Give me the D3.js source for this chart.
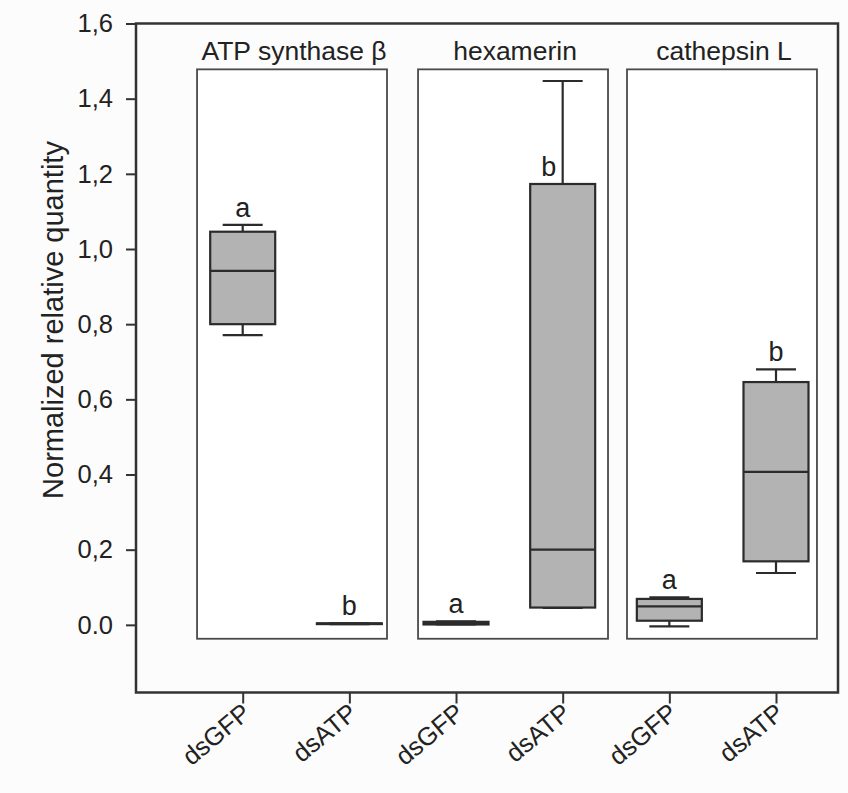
<!DOCTYPE html>
<html><head><meta charset="utf-8">
<script src="https://cdn.jsdelivr.net/npm/d3@7"></script>
<style>
html,body{margin:0;padding:0;background:#fcfcfc;}
svg{display:block;font-family:"Liberation Sans",Arial,sans-serif;}
</style></head>
<body>
<svg id="chart" width="848" height="793"></svg>
<script>
// ---- data ----
const genes = ["ATP synthase β", "hexamerin", "cathepsin L"];
const treatments = ["dsGFP", "dsATP"];
const groupLabels = ["dsGFP", "dsATP", "dsGFP", "dsATP", "dsGFP", "dsATP"];
const whiskerLow  = [0.771, 0.002, 0.001, 0.045, -0.004, 0.138];
const q1          = [0.800, 0.002, 0.001, 0.046, 0.011, 0.169];
const median      = [0.942, 0.003, 0.004, 0.200, 0.049, 0.407];
const q3          = [1.046, 0.004, 0.008, 1.173, 0.069, 0.646];
const whiskerHigh = [1.064, 0.004, 0.009, 1.447, 0.073, 0.680];
const letters     = ["a", "b", "a", "b", "a", "b"];
const letterBesideWhisker = [false, false, false, true, false, false];
const yTickValues = [0, 0.2, 0.4, 0.6, 0.8, 1.0, 1.2, 1.4, 1.6];
const yTickLabels = ["0.0", "0,2", "0,4", "0,6", "0,8", "1,0", "1,2", "1,4", "1,6"];
const yDomain = [-0.18, 1.6];
const panelValueRange = [-0.037, 1.478];
// panel edges in group-index units
const panelStart = [-0.428, 1.644, 3.603];
const panelEnd   = [1.353, 3.425, 5.384];
const yTitle = "Normalized relative quantity";

// ---- layout ----
const svg = d3.select("#chart");
const mLeft = 136, mRight = 838, mTop = 23.5, mBottom = 692.5;
const ink = "#2b2b2b";

const y = d3.scaleLinear().domain(yDomain).range([mBottom, mTop]);
const x = d3.scalePoint().domain(d3.range(groupLabels.length)).range([242.7, 776]);
const xl = d3.scaleLinear().domain([0, groupLabels.length - 1]).range(x.range());

svg.append("rect").attr("width", 848).attr("height", 793).attr("fill", "#fcfcfc");

// panels
genes.forEach((g, i) => {
  const x0 = xl(panelStart[i]), x1 = xl(panelEnd[i]);
  svg.append("rect")
    .attr("x", x0).attr("y", y(panelValueRange[1]))
    .attr("width", x1 - x0).attr("height", y(panelValueRange[0]) - y(panelValueRange[1]))
    .attr("fill", "#ffffff").attr("stroke", "#4a4a4a").attr("stroke-width", 1.8);
  svg.append("text")
    .attr("x", (x0 + x1) / 2 + 2).attr("y", 60)
    .attr("text-anchor", "middle").attr("font-size", 26.5).attr("fill", "#222")
    .text(g);
});

// boxes
const boxW = 65, capW = 40;
groupLabels.forEach((lab, i) => {
  const cx = x(i);
  const gEl = svg.append("g").attr("stroke", ink).attr("stroke-width", 2.2);
  gEl.append("line").attr("x1", cx).attr("x2", cx).attr("y1", y(whiskerHigh[i])).attr("y2", y(q3[i]));
  gEl.append("line").attr("x1", cx).attr("x2", cx).attr("y1", y(q1[i])).attr("y2", y(whiskerLow[i]));
  gEl.append("line").attr("x1", cx - capW / 2).attr("x2", cx + capW / 2).attr("y1", y(whiskerHigh[i])).attr("y2", y(whiskerHigh[i]));
  gEl.append("line").attr("x1", cx - capW / 2).attr("x2", cx + capW / 2).attr("y1", y(whiskerLow[i])).attr("y2", y(whiskerLow[i]));
  gEl.append("rect")
    .attr("x", cx - boxW / 2).attr("y", y(q3[i]))
    .attr("width", boxW).attr("height", Math.max(0.5, y(q1[i]) - y(q3[i])))
    .attr("fill", "#b3b3b3");
  gEl.append("line").attr("x1", cx - boxW / 2).attr("x2", cx + boxW / 2).attr("y1", y(median[i])).attr("y2", y(median[i]));

  const beside = letterBesideWhisker[i];
  svg.append("text")
    .attr("x", beside ? cx - 14 : cx)
    .attr("y", beside ? y(q3[i]) - 8 : y(whiskerHigh[i]) - 8)
    .attr("text-anchor", "middle").attr("font-size", 27).attr("fill", "#222")
    .text(letters[i]);
});

// frame
svg.append("rect").attr("x", mLeft).attr("y", mTop).attr("width", mRight - mLeft).attr("height", mBottom - mTop)
  .attr("fill", "none").attr("stroke", "#333").attr("stroke-width", 2.5);

// y axis
const yAxis = d3.axisLeft(y).tickValues(yTickValues).tickSize(10).tickPadding(13)
  .tickFormat((d, i) => yTickLabels[i]);
const ya = svg.append("g").attr("transform", `translate(${mLeft},0)`).call(yAxis);
ya.select(".domain").remove();
ya.selectAll(".tick line").attr("stroke", "#333").attr("stroke-width", 2);
ya.selectAll(".tick text").attr("font-size", 25.5).attr("fill", "#222")
  .attr("font-family", "Liberation Sans, Arial, sans-serif");

// x axis
const xAxis = d3.axisBottom(x).tickSize(11).tickFormat(i => groupLabels[i]);
const xa = svg.append("g").attr("transform", `translate(0,${mBottom})`).call(xAxis);
xa.select(".domain").remove();
xa.selectAll(".tick line").attr("stroke", "#333").attr("stroke-width", 2);
xa.selectAll(".tick text")
  .attr("font-size", 25.5).attr("fill", "#222")
  .attr("font-family", "Liberation Sans, Arial, sans-serif")
  .attr("text-anchor", "end")
  .attr("dy", null)
  .attr("y", 0)
  .attr("transform", "translate(9,23) rotate(-40)");

// y title
svg.append("text")
  .attr("transform", `translate(63,320) rotate(-90)`)
  .attr("text-anchor", "middle").attr("font-size", 29).attr("fill", "#222")
  .text(yTitle);
</script>
</body></html>
